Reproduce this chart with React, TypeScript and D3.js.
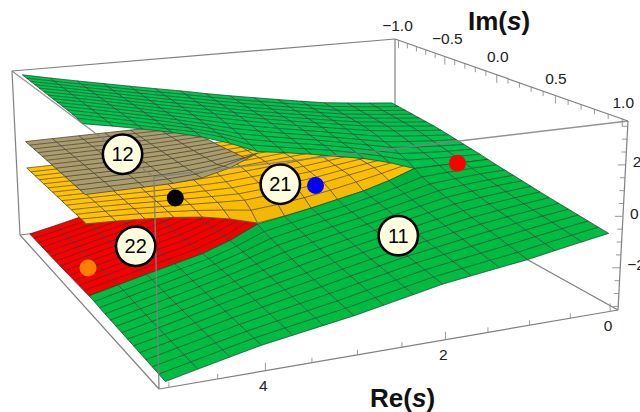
import React from "react";
import * as d3 from "d3";

// ---- data ----
const reTicks = [0, 2, 4];
const reMinor = [0.5, 1, 1.5, 2.5, 3, 3.5, 4.5, 5];
const imTicks = [-1, -0.5, 0, 0.5, 1];
const imMinor = [-0.9, -0.8, -0.7, -0.6, -0.4, -0.3, -0.2, -0.1, 0.1, 0.2, 0.3, 0.4, 0.6, 0.7, 0.8, 0.9];
const zTicks = [-2, 0, 2];
const zMinor = [-3.5, -3, -2.5, -1.5, -1, -0.5, 0.5, 1, 1.5, 2.5, 3, 3.5];

const reMeshNodes = d3.range(16).map((i) => i / 3);
const imMeshNodes = d3.range(14).map((i) => i / 13);

const reKnotsGreen = [0, 0.5, 1, 1.5, 2, 2.5, 3, 3.5, 4, 4.5, 5];
const imKnotsFront = [0, 0.08, 0.2, 0.5, 1];
const greenFrontZ = [
  [0, 0, 0, -0.58, -0.91, -1.24, -1.5, -2.28, -2.66, -3.05, -3.45],
  [-0.07, -0.1, -0.2, -0.65, -1.01, -1.3, -1.62, -2.28, -2.66, -3.05, -3.45],
  [-0.16, -0.23, -0.39, -0.75, -1.1, -1.4, -1.75, -2.28, -2.7, -3.09, -3.48],
  [-0.39, -0.55, -0.75, -1.04, -1.33, -1.65, -2.02, -2.37, -2.76, -3.15, -3.51],
  [-0.72, -0.98, -1.26, -1.47, -1.69, -2.02, -2.34, -2.6, -2.86, -3.21, -3.57],
];
const imKnotsBack = [-1, -0.5, -0.2, -0.08, 0];
const greenBackZ = [
  [0.62, 0.78, 0.97, 1.25, 1.55, 1.85, 2.2, 2.52, 2.86, 3.2, 3.57],
  [0.39, 0.55, 0.75, 1.04, 1.33, 1.65, 2.02, 2.37, 2.76, 3.15, 3.51],
  [0.16, 0.23, 0.39, 0.75, 1.1, 1.4, 1.75, 2.28, 2.7, 3.09, 3.48],
  [0.07, 0.1, 0.2, 0.65, 1.01, 1.3, 1.62, 2.28, 2.66, 3.05, 3.45],
  [0, 0, 0, 0.58, 0.91, 1.24, 1.5, 2.21, 2.66, 3.05, 3.38],
];
const imKnotsYellow = [-1, -0.5, -0.15, -0.05, 0];
const reKnotsYellow = [1, 1.5, 2, 2.5, 3, 3.5, 4, 4.5, 5];
const yellowZ = [
  [0, -0.13, -0.26, -0.39, -0.46, -0.52, -0.56, -0.59, -0.59],
  [0, -0.13, -0.26, -0.39, -0.5, -0.58, -0.61, -0.61, -0.59],
  [0, -0.26, -0.55, -0.75, -0.88, -0.8, -0.71, -0.62, -0.59],
  [0, -0.42, -0.75, -1.04, -1.2, -0.91, -0.75, -0.65, -0.59],
  [0, -0.58, -0.91, -1.24, -1.46, -0.98, -0.78, -0.65, -0.59],
];
const imKnotsTan = [-1, -0.5, -0.15, 0];
const reKnotsOuter = [3, 3.5, 4, 4.5, 5];
const tanZ = [
  [0.62, 0.62, 0.61, 0.6, 0.59],
  [0.75, 0.65, 0.61, 0.6, 0.59],
  [0.92, 0.68, 0.6, 0.59, 0.58],
  [1.43, 0.72, 0.6, 0.58, 0.57],
];
const imKnotsRed = [-1, -0.5, 0];
const redZ = [
  [-1.82, -2.34, -2.8, -3.19, -3.54],
  [-1.69, -2.34, -2.73, -3.12, -3.51],
  [-1.5, -2.28, -2.66, -3.05, -3.45],
];

const dotRe = [3.98, 2.28, 0.42, 5];
const dotZ = [0, -0.2, 0, -2.34];
const dotColors = ["#000000", "#0000ff", "#ff0000", "#ff7f00"];

const badgeText = ["12", "21", "22", "11"];
const badgeRe = [4.57, 2.72, 4.45, 1.2];
const badgeZ = [2.0, 0.03, -1.74, -2.81];

const imLabelDx = [-1, 2.5, 1, 0.5, 1];
const imLabelDy = [-9, -13, -13, -11, -11];

// ---- box and camera ----
type P = [number, number];
const topFace: P[] = [[395, 39], [12, 71], [154, 177], [628, 121]];
const bottomFace: P[] = [[395, 186], [20, 235], [159, 389], [618, 310]];

function homography(q: P[]) {
  const [[x0, y0], [x1, y1], [x2, y2], [x3, y3]] = q;
  const dx1 = x1 - x2, dx2 = x3 - x2, sx = x0 - x1 + x2 - x3;
  const dy1 = y1 - y2, dy2 = y3 - y2, sy = y0 - y1 + y2 - y3;
  const den = dx1 * dy2 - dx2 * dy1;
  const g = (sx * dy2 - dx2 * sy) / den;
  const h = (dx1 * sy - sx * dy1) / den;
  const a = x1 - x0 + g * x1, b = x3 - x0 + h * x3;
  const d = y1 - y0 + g * y1, e = y3 - y0 + h * y3;
  return (u: number, v: number): P => {
    const w = g * u + h * v + 1;
    return [(a * u + b * v + x0) / w, (d * u + e * v + y0) / w];
  };
}
const topMap = homography(topFace);
const bottomMap = homography(bottomFace);
const uScale = d3.scaleLinear([-0.1, 5.1], [0, 1]);
const vScale = d3.scaleLinear([-1.04, 1.04], [0, 1]);
const tScale = d3.scaleLinear([-3.64, 3.705], [0, 1]);

function project(re: number, im: number, z: number): P {
  const u = uScale(re), v = vScale(im), t = tScale(z);
  const b = bottomMap(u, v), a = topMap(u, v);
  return [b[0] + (a[0] - b[0]) * t, b[1] + (a[1] - b[1]) * t];
}

// ---- sheets ----
type Sheet = {
  fill: string;
  reKnots: number[];
  imKnots: number[];
  z: number[][];
  res: number[];
  ims: number[];
};
const frontIms = imMeshNodes;
const backIms = imMeshNodes.map((d) => d - 1);
const sheets: Sheet[] = [
  { fill: "#f60000", reKnots: reKnotsOuter, imKnots: imKnotsRed, z: redZ, res: reMeshNodes.filter((r) => r >= 2.99), ims: backIms },
  { fill: "#ffc004", reKnots: reKnotsYellow, imKnots: imKnotsYellow, z: yellowZ, res: reMeshNodes.filter((r) => r >= 0.99), ims: backIms },
  { fill: "#a89a6c", reKnots: reKnotsOuter, imKnots: imKnotsTan, z: tanZ, res: reMeshNodes.filter((r) => r >= 2.99), ims: backIms },
  { fill: "#00c04c", reKnots: reKnotsGreen, imKnots: imKnotsBack, z: greenBackZ, res: reMeshNodes, ims: backIms },
  { fill: "#00bd42", reKnots: reKnotsGreen, imKnots: imKnotsFront, z: greenFrontZ, res: reMeshNodes, ims: frontIms },
];

function heightOf(s: Sheet, re: number, im: number) {
  const col = s.z.map((row) => d3.scaleLinear(s.reKnots, row)(re));
  return d3.scaleLinear(s.imKnots, col)(im);
}

const lineGen = d3.line<P>();

function SheetView({ s }: { s: Sheet }) {
  const pts = s.ims.map((im) => s.res.map((re) => ({ re, im, z: heightOf(s, re, im) })));
  const xy = pts.map((row) => row.map((n) => project(n.re, n.im, n.z)));
  const cells: React.ReactNode[] = [];
  for (let j = 0; j < s.ims.length - 1; j++) {
    for (let i = 0; i < s.res.length - 1; i++) {
      const gx = (pts[j][i + 1].z - pts[j][i].z) / (s.res[i + 1] - s.res[i]);
      const gy = (pts[j + 1][i].z - pts[j][i].z) / (s.ims[j + 1] - s.ims[j]);
      const k = Math.max(-0.5, Math.min(0.5, 0.12 * (gx + 0.65) + 0.06 * gy));
      const col = k > 0 ? d3.rgb(s.fill).brighter(k * 0.5) : d3.rgb(s.fill).darker(-k * 0.7);
      const c = col.formatHex();
      cells.push(
        <path
          key={`${j}-${i}`}
          d={lineGen([xy[j][i], xy[j][i + 1], xy[j + 1][i + 1], xy[j + 1][i]]) + "Z"}
          fill={c}
          stroke={c}
          strokeWidth={0.4}
        />
      );
    }
  }
  const lines: React.ReactNode[] = [];
  xy.forEach((row, j) =>
    lines.push(<path key={`a${j}`} d={lineGen(row)!} fill="none" stroke="#222" strokeOpacity={0.8} strokeWidth={0.7} />)
  );
  s.res.forEach((_, i) =>
    lines.push(<path key={`b${i}`} d={lineGen(xy.map((r) => r[i]))!} fill="none" stroke="#3a3a3a" strokeOpacity={0.8} strokeWidth={0.9} />)
  );
  return <g>{cells}{lines}</g>;
}

const boxStroke = "#808080";
const font = "'Liberation Sans', Arial, sans-serif";

function Seg({ a, b, op = 1, w = 1.2 }: { a: P; b: P; op?: number; w?: number }) {
  return <line x1={a[0]} y1={a[1]} x2={b[0]} y2={b[1]} stroke={boxStroke} strokeOpacity={op} strokeWidth={w} />;
}

export default function App() {
  const [B, A, D, C] = topFace;
  const [F, E, G, H] = bottomFace;
  const reBase = (re: number) => project(re, 1.04, -3.64);
  const imBase = (im: number) => project(-0.1, im, 3.705);
  const zBase = (z: number) => project(-0.1, 1.04, z);
  const labelStyle = { fontFamily: font, fontSize: 15.5, fill: "#222" } as const;
  return (
    <svg width={640} height={412} style={{ position: "absolute", left: 0, top: 0 }}>
      {/* back edges */}
      <Seg a={A} b={B} />
      <Seg a={B} b={F} />
      <Seg a={A} b={E} />
      <Seg a={E} b={F} />
      <Seg a={F} b={H} />
      <Seg a={B} b={C} />
      <Seg a={C} b={H} />
      <Seg a={E} b={G} />
      <Seg a={G} b={H} />

      {reMinor.concat(reTicks).map((d) => {
        const p = reBase(d);
        const len = reTicks.includes(d) ? 8 : 5;
        return <Seg key={`r${d}`} a={p} b={[p[0], p[1] - len]} w={0.8} />;
      })}
      {imMinor.concat(imTicks).map((d) => {
        const p = imBase(d);
        const len = imTicks.includes(d) ? 8 : 5;
        return <Seg key={`i${d}`} a={p} b={[p[0], p[1] + len]} w={0.8} />;
      })}
      {zMinor.concat(zTicks).map((d) => {
        const p = zBase(d);
        const len = zTicks.includes(d) ? 8 : 5;
        return <Seg key={`z${d}`} a={p} b={[p[0] - len, p[1]]} w={0.8} />;
      })}

      {sheets.map((s, i) => (
        <SheetView key={i} s={s} />
      ))}

      {/* front edges over the surfaces */}
      <Seg a={A} b={D} op={0.85} />
      <Seg a={D} b={C} op={0.85} w={1.4} />
      <Seg a={D} b={G} op={0.9} w={1.4} />

      {dotRe.map((re, i) => {
        const p = project(re, 0, dotZ[i]);
        return <circle key={i} cx={p[0]} cy={p[1]} r={8.5} fill={dotColors[i]} />;
      })}
      {badgeText.map((t, i) => {
        const p = project(badgeRe[i], 0, badgeZ[i]);
        return (
          <g key={t}>
            <circle cx={p[0]} cy={p[1]} r={19.7} fill="#ffffe0" stroke="#000" strokeWidth={2.6} />
            <text x={p[0]} y={p[1] + 7} textAnchor="middle" fontFamily={font} fontSize={20} fill="#000">{t}</text>
          </g>
        );
      })}

      {imTicks.map((d, i) => {
        const p = imBase(d);
        const s = d < 0 ? `\u2212${Math.abs(d).toFixed(1)}` : d.toFixed(1);
        return <text key={d} x={p[0] + imLabelDx[i]} y={p[1] + imLabelDy[i]} textAnchor="middle" {...labelStyle}>{s}</text>;
      })}
      {reTicks.map((d) => {
        const p = reBase(d);
        return <text key={d} x={p[0] - 2} y={p[1] + 20} textAnchor="middle" {...labelStyle}>{d}</text>;
      })}
      {zTicks.map((d) => {
        const p = zBase(d);
        const s = d < 0 ? `\u2212${Math.abs(d)}` : `${d}`;
        return <text key={d} x={p[0] + 7} y={p[1] + 2.5} textAnchor="start" {...labelStyle}>{s}</text>;
      })}
      <text x={468} y={30} fontFamily={font} fontSize={26} fontWeight="bold" fill="#111">
        Im(<tspan fontStyle="italic">s</tspan>)
      </text>
      <text x={370} y={407} fontFamily={font} fontSize={26} fontWeight="bold" fill="#111">
        Re(<tspan fontStyle="italic">s</tspan>)
      </text>
    </svg>
  );
}
